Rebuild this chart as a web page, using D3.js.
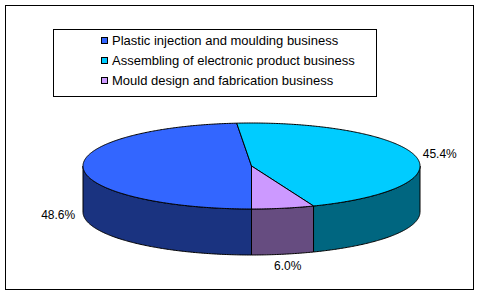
<!DOCTYPE html>
<html><head><meta charset="utf-8">
<script src="https://cdn.jsdelivr.net/npm/d3@7"></script>
<style>body{margin:0;background:#fff}svg{display:block}</style>
</head><body><svg id="c" width="480" height="296"></svg>
<script>
const categories = ["Plastic injection and moulding business", "Assembling of electronic product business", "Mould design and fabrication business"];
const values = [48.6, 45.4, 6.0];
const valueLabels = ["48.6%", "45.4%", "6.0%"];
const topColors = ["#3366FF", "#00CCFF", "#CC99FF"];
const sideColors = ["#1A3380", "#006680", "#664C80"];

const svg = d3.select("#c");
const FONT = "Arial, 'Liberation Sans', sans-serif";

svg.append("rect").attr("x", 5.5).attr("y", 5.5).attr("width", 468).attr("height", 284)
  .attr("fill", "#fff").attr("stroke", "#000").attr("shape-rendering", "crispEdges");

const cx = 251.5, cy = 166, rx = 168.5, ry = 43, depth = 46;
const pie = d3.pie().sort(null).value(d => d).startAngle(Math.PI).endAngle(3 * Math.PI);
const arcs = pie(values);
const px = a => cx + rx * Math.sin(a), py = a => cy - ry * Math.cos(a);
function pts(a0, a1, dy) {
  const n = Math.max(2, Math.ceil(Math.abs(a1 - a0) / 0.01));
  const out = [];
  for (let i = 0; i <= n; i++) { const a = a0 + (a1 - a0) * i / n; out.push([px(a), py(a) + dy]); }
  return out;
}
const line = d3.line();

// side walls (front-facing part only)
const visible = [[Math.PI / 2, 3 * Math.PI / 2], [5 * Math.PI / 2, 7 * Math.PI / 2]];
const gWall = svg.append("g");
arcs.forEach((d, i) => {
  visible.forEach(([v0, v1]) => {
    const a0 = Math.max(d.startAngle, v0), a1 = Math.min(d.endAngle, v1);
    if (a1 > a0) {
      const p = pts(a0, a1, 0).concat(pts(a1, a0, depth));
      gWall.append("path").attr("d", line(p) + "Z")
        .attr("fill", sideColors[i]).attr("stroke", "#000").attr("stroke-width", 1)
        .attr("stroke-linejoin", "round");
    }
  });
});

// top faces
const gTop = svg.append("g");
arcs.forEach((d, i) => {
  const p = [[cx, cy]].concat(pts(d.startAngle, d.endAngle, 0));
  gTop.append("path").attr("d", line(p) + "Z")
    .attr("fill", topColors[i]).attr("stroke", "#000").attr("stroke-width", 1)
    .attr("stroke-linejoin", "round");
});

// value labels
arcs.forEach((d, i) => {
  const a = (d.startAngle + d.endAngle) / 2;
  const x = cx + (rx + 25) * Math.sin(a);
  const y = cy - (ry + 12) * Math.cos(a) + (Math.cos(a) < 0 ? depth : 0);
  svg.append("text").attr("x", x).attr("y", y).attr("dy", "0.35em")
    .attr("text-anchor", "middle").attr("font-family", FONT).attr("font-size", 12)
    .attr("fill", "#000").text(valueLabels[i]);
});

// legend
const lg = svg.append("g");
lg.append("rect").attr("x", 53.5).attr("y", 29.5).attr("width", 323).attr("height", 67)
  .attr("fill", "#fff").attr("stroke", "#000").attr("shape-rendering", "crispEdges");
const rowY = d3.scalePoint().domain(categories).range([40.5, 80.5]);
categories.forEach((c, i) => {
  const y = rowY(c);
  lg.append("rect").attr("x", 101.5).attr("y", y - 3.5).attr("width", 6).attr("height", 6)
    .attr("fill", topColors[i]).attr("stroke", "#000").attr("shape-rendering", "crispEdges");
  lg.append("text").attr("x", 112).attr("y", y).attr("dy", "0.36em")
    .attr("font-family", FONT).attr("font-size", 13).attr("fill", "#000").text(c);
});
</script></body></html>
